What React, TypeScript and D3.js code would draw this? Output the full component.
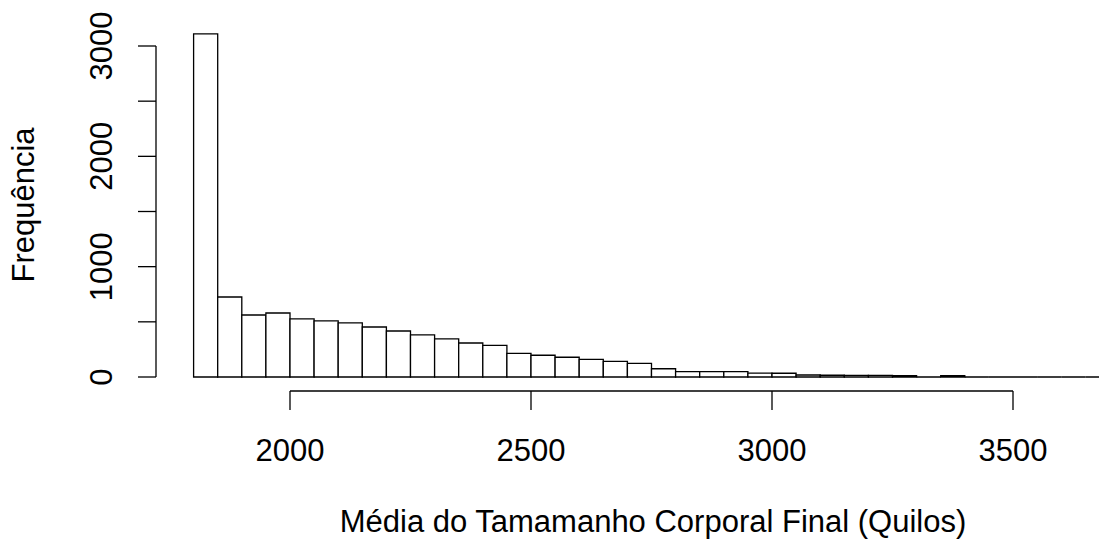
import React, { useEffect, useRef } from "react";
import * as d3 from "d3";

// histogram bins: start of first bin, bin width, counts per bin
const binStart = 1800;
const binWidth = 50;
const counts = [
  3110, 725, 562, 580, 526, 508, 490, 453, 417, 381, 345, 308, 287, 215, 197,
  179, 160, 142, 124, 75, 48, 48, 48, 36, 34, 18, 16, 15, 14, 12, 0, 13, 0, 0,
  0, 0, 0, 0,
];
const xTicks = [2000, 2500, 3000, 3500];
const yTicks = [0, 500, 1000, 1500, 2000, 2500, 3000];
const yLabels = [0, 1000, 2000, 3000];
const xTitle = "Média do Tamamanho Corporal Final (Quilos)";
const yTitle = "Frequência";

const W = 1099;
const H = 546;
const FONT = "'Liberation Sans', Arial, sans-serif";

export default function App() {
  const ref = useRef<SVGSVGElement>(null);

  useEffect(() => {
    const svg = d3.select(ref.current);
    svg.selectAll("*").remove();

    const x = d3.scaleLinear().domain([2000, 3500]).range([290, 1013]);
    const y = d3.scaleLinear().domain([0, 3000]).range([377, 46]);

    const bins = counts.map((c, i) => ({
      x0: binStart + i * binWidth,
      x1: binStart + (i + 1) * binWidth,
      count: c,
    }));

    // bars (as closed paths so empty bins still show as a flat line)
    svg
      .append("g")
      .selectAll("path")
      .data(bins)
      .enter()
      .append("path")
      .attr("d", (d) => {
        const p = d3.path();
        p.moveTo(x(d.x0), y(0));
        p.lineTo(x(d.x0), y(d.count));
        p.lineTo(x(d.x1), y(d.count));
        p.lineTo(x(d.x1), y(0));
        p.closePath();
        return p.toString();
      })
      .attr("fill", "white")
      .attr("stroke", "black")
      .attr("stroke-width", 1.3);

    // x axis
    const xa = svg.append("g").attr("transform", "translate(0,391)");
    xa.append("line")
      .attr("x1", x(xTicks[0]))
      .attr("x2", x(xTicks[xTicks.length - 1]))
      .attr("stroke", "black")
      .attr("stroke-width", 1.3);
    xa.selectAll("line.tick")
      .data(xTicks)
      .enter()
      .append("line")
      .attr("class", "tick")
      .attr("x1", (d) => x(d))
      .attr("x2", (d) => x(d))
      .attr("y1", 0)
      .attr("y2", 19)
      .attr("stroke", "black")
      .attr("stroke-width", 1.3);
    xa.selectAll("text")
      .data(xTicks)
      .enter()
      .append("text")
      .attr("x", (d) => x(d))
      .attr("y", 70)
      .attr("text-anchor", "middle")
      .attr("font-family", FONT)
      .attr("font-size", 31)
      .text((d) => String(d));

    // y axis
    const ya = svg.append("g").attr("transform", "translate(156,0)");
    ya.append("line")
      .attr("y1", y(0))
      .attr("y2", y(3000))
      .attr("stroke", "black")
      .attr("stroke-width", 1.3);
    ya.selectAll("line.tick")
      .data(yTicks)
      .enter()
      .append("line")
      .attr("class", "tick")
      .attr("y1", (d) => y(d))
      .attr("y2", (d) => y(d))
      .attr("x1", 0)
      .attr("x2", -18)
      .attr("stroke", "black")
      .attr("stroke-width", 1.3);
    ya.selectAll("text")
      .data(yLabels)
      .enter()
      .append("text")
      .attr("transform", (d) => `translate(-44,${y(d)}) rotate(-90)`)
      .attr("text-anchor", "middle")
      .attr("font-family", FONT)
      .attr("font-size", 31)
      .text((d) => String(d));

    // titles
    svg
      .append("text")
      .attr("x", 653)
      .attr("y", 532)
      .attr("text-anchor", "middle")
      .attr("font-family", FONT)
      .attr("font-size", 31)
      .text(xTitle);
    svg
      .append("text")
      .attr("transform", "translate(34,205) rotate(-90)")
      .attr("text-anchor", "middle")
      .attr("font-family", FONT)
      .attr("font-size", 31)
      .text(yTitle);
  }, []);

  return (
    <svg
      ref={ref}
      width={W}
      height={H}
      style={{ position: "absolute", left: 0, top: 0, background: "white" }}
    />
  );
}
